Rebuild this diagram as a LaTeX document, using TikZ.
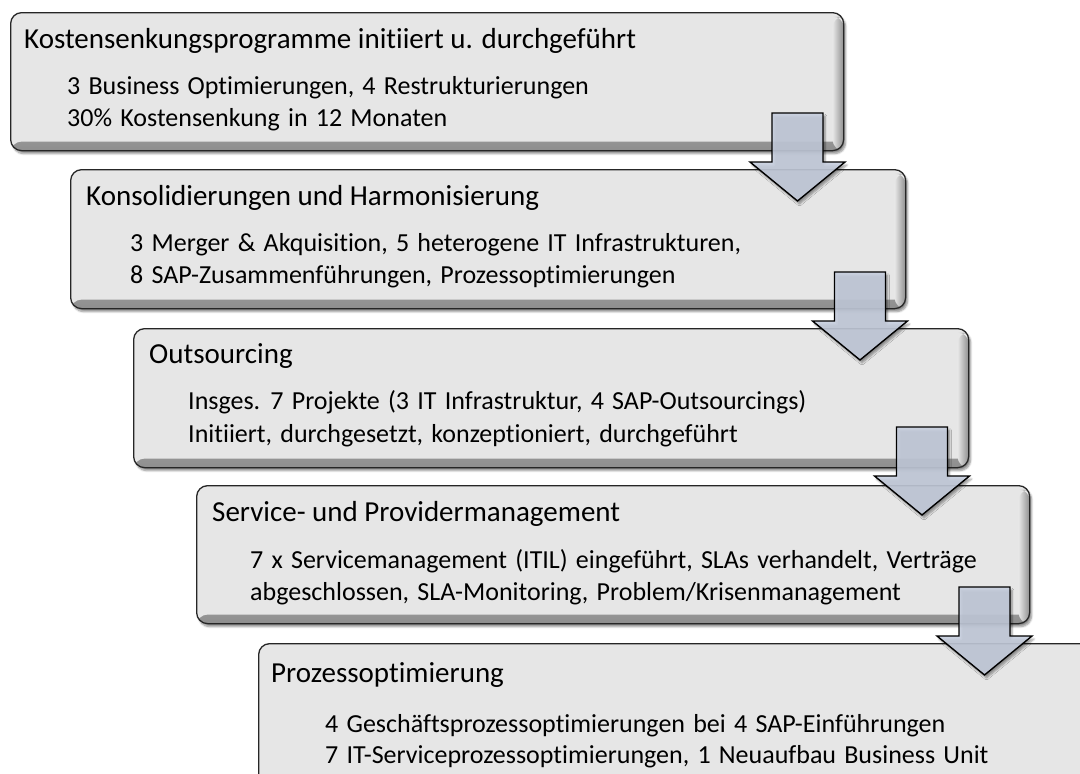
\documentclass[tikz,border=0pt]{standalone}
\usepackage{fontspec}
\setmainfont[Ligatures=NoCommon]{Carlito}
\newfontfamily\bodyfont[WordSpace=1.4,Ligatures=NoCommon]{Carlito}
\usetikzlibrary{shadows.blur}
\definecolor{boxfill}{HTML}{E6E6E6}
\definecolor{boxedge}{HTML}{8E8E8E}
\definecolor{arrowfill}{HTML}{C6CEDE}
\newcommand{\blockarrowdown}[3]{%
  \draw[blockarrow] ({#2-25.5},#3) -- ({#2+25.5},#3) -- ({#2+25.5},{#3+49})
    -- ({#2+47.5},{#3+49}) -- (#2,{#3+88}) -- ({#2-47.5},{#3+49})
    -- ({#2-25.5},{#3+49}) -- cycle;
  \coordinate (#1) at (#2,{#3+88});}
\tikzset{
  stepbox/.style={rectangle, draw=black!85, line width=1.3pt, fill=boxfill,
    rounded corners=11pt, anchor=north west, inner sep=0pt,
    blur shadow={shadow xshift=2pt, shadow yshift=-3pt, shadow blur steps=6, shadow opacity=45},
    path picture={
      \shade[top color=boxfill, bottom color=boxedge]
        ([yshift=9pt]path picture bounding box.south west) rectangle (path picture bounding box.south east);
      \shade[left color=boxfill, right color=boxedge]
        ([xshift=-11pt,yshift=-4pt]path picture bounding box.north east) rectangle (path picture bounding box.south east);
    }},
  boxtitle/.style={anchor=base west, inner sep=0pt, font=\fontsize{29}{34}\selectfont},
  boxbody/.style={anchor=base west, inner sep=0pt, font=\bodyfont\fontsize{26}{30}\selectfont},
  blockarrow/.style={draw=black, line width=1.4pt, fill=arrowfill, fill opacity=0.88,
    line join=miter,
    blur shadow={shadow xshift=2pt, shadow yshift=-3pt, shadow blur steps=5, shadow opacity=40}},
}
\begin{document}
\begin{tikzpicture}[x=1pt,y=-1pt]
\useasboundingbox (0,0) rectangle (1080,774);
\clip (0,0) rectangle (1080,774);
\node[stepbox, minimum width=833pt, minimum height=138pt] (b1) at (10,12) {};
\node[stepbox, minimum width=835pt, minimum height=139pt] (b2) at (70,169) {};
\node[stepbox, minimum width=835pt, minimum height=139pt] (b3) at (133,328) {};
\node[stepbox, minimum width=833pt, minimum height=138pt] (b4) at (196,485) {};
\node[stepbox, minimum width=900pt, minimum height=200pt] (b5) at (258,643) {};

\node[boxtitle] (t1) at (24,48) {Kostensenkungsprogramme initiiert u. durchgeführt};
\node[boxbody] (t1a) at (67,94) {3 Business Optimierungen, 4 Restrukturierungen};
\node[boxbody] (t1b) at (67,126) {30\% Kostensenkung in 12 Monaten};

\node[boxtitle] (t2) at (86,205) {Konsolidierungen und Harmonisierung};
\node[boxbody] (t2a) at (130,251) {3 Merger \& Akquisition, 5 heterogene IT Infrastrukturen,};
\node[boxbody] (t2b) at (130,283) {8 SAP-Zusammenführungen, Prozessoptimierungen};

\node[boxtitle] (t3) at (149,363) {Outsourcing};
\node[boxbody] (t3a) at (188,409) {Insges. 7 Projekte (3 IT Infrastruktur, 4 SAP-Outsourcings)};
\node[boxbody] (t3b) at (188,442) {Initiiert, durchgesetzt, konzeptioniert, durchgeführt};

\node[boxtitle] (t4) at (212,521) {Service- und Providermanagement};
\node[boxbody] (t4a) at (250,568) {7 x Servicemanagement (ITIL) eingeführt, SLAs verhandelt, Verträge};
\node[boxbody] (t4b) at (250,600) {abgeschlossen, SLA-Monitoring, Problem/Krisenmanagement};

\node[boxtitle] (t5) at (271,682) {Prozessoptimierung};
\node[boxbody] (t5a) at (325,732) {4 Geschäftsprozessoptimierungen bei 4 SAP-Einführungen};
\node[boxbody] (t5b) at (325,763) {7 IT-Serviceprozessoptimierungen, 1 Neuaufbau Business Unit};

\blockarrowdown{a1}{797.5}{113}
\blockarrowdown{a2}{860}{272}
\blockarrowdown{a3}{922}{427}
\blockarrowdown{a4}{984.5}{587}
\end{tikzpicture}
\end{document}
